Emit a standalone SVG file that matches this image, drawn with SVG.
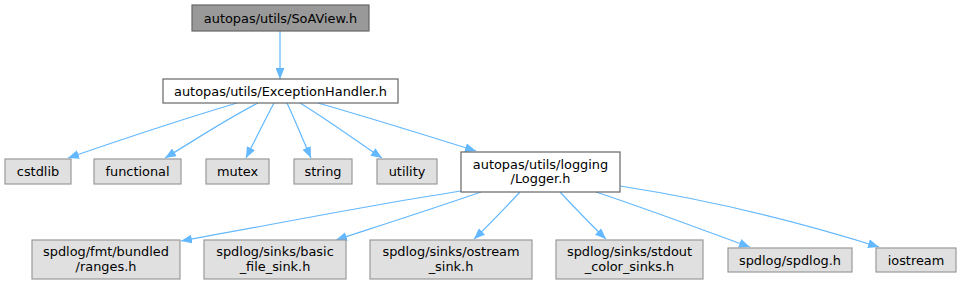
<svg xmlns="http://www.w3.org/2000/svg" width="962" height="285" viewBox="0 0 962 285">
<defs>
<marker id="ah" viewBox="0 0 11 9" refX="11" refY="4.5" markerWidth="11" markerHeight="9" markerUnits="userSpaceOnUse" orient="auto">
<path d="M0,0 L11,4.5 L0,9 Z" fill="#63b8ff"/>
</marker>
<style>
.e{fill:none;stroke:#63b8ff;stroke-width:1.2;marker-end:url(#ah)}
.n rect{fill:#e0e0e0;stroke:#999;stroke-width:1.2}
.w rect{fill:#fff;stroke:#666;stroke-width:1.2}
.t rect{fill:#999;stroke:#666;stroke-width:1.2}
text{font-family:"DejaVu Sans",sans-serif;font-size:12.9px;text-anchor:middle;fill:#000}
</style>
</defs>
<rect width="962" height="285" fill="#fff"/>
<g id="edges">
<path class="e" d="M280,31 L280,79"/>
<path class="e" d="M237,103 C180,120 120,140 68,158"/>
<path class="e" d="M258,103 C225,120 195,140 165,158"/>
<path class="e" d="M274,103 C265,120 255,140 246,158"/>
<path class="e" d="M287,103 C295,120 303,140 311,158"/>
<path class="e" d="M300,103 C328,120 355,140 382,158"/>
<path class="e" d="M318,103 C370,118 425,135 476,151"/>
<path class="e" d="M461,191 C370,205 270,225 181,241"/>
<path class="e" d="M481,192 C435,208 385,224 336,240"/>
<path class="e" d="M520,192 C505,208 490,224 474,239"/>
<path class="e" d="M560,192 C575,208 590,224 606,239"/>
<path class="e" d="M596,192 C650,210 700,229 750,247"/>
<path class="e" d="M620,186 C710,200 800,222 879,247"/>
</g>
<g id="soaview" class="t"><rect x="192" y="5" width="177" height="26"/><text x="280.5" y="22.5">autopas/utils/SoAView.h</text></g>
<g id="exceptionhandler" class="w"><rect x="163" y="79" width="235" height="24"/><text x="280.5" y="95.5">autopas/utils/ExceptionHandler.h</text></g>
<g id="cstdlib" class="n"><rect x="5" y="159" width="66" height="25"/><text x="38" y="176">cstdlib</text></g>
<g id="functional" class="n"><rect x="94" y="159" width="87" height="25"/><text x="137.5" y="176">functional</text></g>
<g id="mutex" class="n"><rect x="206" y="159" width="63" height="25"/><text x="237.5" y="176">mutex</text></g>
<g id="string" class="n"><rect x="294" y="159" width="58" height="25"/><text x="323" y="176">string</text></g>
<g id="utility" class="n"><rect x="377" y="159" width="60" height="25"/><text x="407" y="176">utility</text></g>
<g id="logger" class="w"><rect x="461" y="152" width="159" height="40"/><text x="540.5" y="168.5">autopas/utils/logging</text><text x="540.5" y="183">/Logger.h</text></g>
<g id="ranges" class="n"><rect x="32" y="240" width="148" height="39"/><text x="106" y="255.5">spdlog/fmt/bundled</text><text x="106" y="270.5">/ranges.h</text></g>
<g id="basicfilesink" class="n"><rect x="204" y="240" width="142" height="39"/><text x="275" y="255.5">spdlog/sinks/basic</text><text x="275" y="270.5">_file_sink.h</text></g>
<g id="ostreamsink" class="n"><rect x="370" y="240" width="162" height="39"/><text x="451" y="255.5">spdlog/sinks/ostream</text><text x="451" y="270.5">_sink.h</text></g>
<g id="stdoutcolorsinks" class="n"><rect x="556" y="240" width="147" height="39"/><text x="629.5" y="255.5">spdlog/sinks/stdout</text><text x="629.5" y="270.5">_color_sinks.h</text></g>
<g id="spdlog" class="n"><rect x="728" y="248" width="124" height="24"/><text x="790" y="264.5">spdlog/spdlog.h</text></g>
<g id="iostream" class="n"><rect x="876" y="248" width="80" height="24"/><text x="916" y="264.5">iostream</text></g>
</svg>
